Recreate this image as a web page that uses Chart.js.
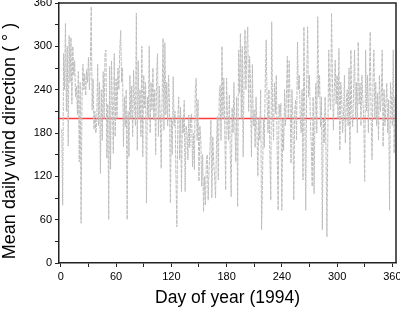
<!DOCTYPE html>
<html>
<head>
<meta charset="utf-8">
<script src="https://cdn.jsdelivr.net/npm/chart.js@4/dist/chart.umd.min.js"></script>
<style>
  html, body { margin: 0; padding: 0; background: #fff; }
  canvas { display: block; }
</style>
</head>
<body>
<canvas id="wind-chart" width="400" height="317"></canvas>
<script>
// mean daily wind direction (deg), days 1..365 of 1994
const windDirection = [
  185, 80, 290, 240, 332, 210, 300, 162, 315, 250,
  312, 220, 300, 260, 280, 230, 245, 205, 265, 140,
  250, 55, 230, 275, 240, 262, 232, 268, 250, 285,
  240, 275, 355, 212, 255, 185, 210, 180, 195, 275,
  190, 250, 124, 240, 170, 265, 200, 290, 295, 145,
  220, 60, 272, 130, 280, 216, 152, 290, 175, 255,
  200, 270, 240, 295, 322, 250, 270, 161, 230, 189,
  240, 60, 210, 147, 260, 200, 245, 175, 267, 220,
  190, 346, 156, 280, 200, 240, 175, 300, 147, 260,
  215, 250, 83, 230, 200, 300, 180, 250, 212, 270,
  198, 240, 150, 260, 290, 175, 245, 200, 131, 230,
  311, 184, 305, 205, 250, 190, 260, 221, 83, 200,
  150, 258, 190, 210, 120, 50, 200, 230, 143, 216,
  99, 200, 180, 225, 99, 190, 180, 143, 205, 160,
  200, 207, 133, 180, 129, 240, 256, 170, 226, 113,
  190, 170, 106, 150, 71, 120, 80, 140, 150, 87,
  130, 160, 198, 90, 175, 140, 120, 90, 160, 203,
  115, 230, 246, 170, 300, 200, 256, 189, 101, 256,
  200, 170, 233, 152, 92, 215, 180, 250, 189, 140,
  230, 78, 295, 235, 318, 200, 300, 147, 260, 323,
  240, 300, 327, 210, 286, 250, 147, 275, 190, 212,
  160, 230, 180, 120, 200, 170, 240, 46, 110, 200,
  160, 250, 309, 226, 180, 240, 150, 87, 334, 210,
  170, 250, 207, 260, 152, 73, 220, 203, 221, 73,
  200, 156, 240, 190, 230, 286, 200, 280, 220, 138,
  240, 200, 87, 210, 226, 170, 306, 240, 260, 200,
  180, 240, 115, 327, 200, 73, 250, 327, 230, 260,
  200, 161, 106, 230, 96, 200, 249, 180, 341, 230,
  260, 189, 230, 46, 200, 166, 230, 150, 36, 180,
  295, 230, 212, 346, 250, 184, 240, 281, 220, 260,
  200, 297, 156, 250, 230, 180, 203, 260, 166, 220,
  240, 190, 270, 138, 295, 210, 189, 240, 295, 200,
  250, 180, 306, 220, 249, 190, 260, 226, 200, 113,
  295, 210, 260, 180, 249, 320, 200, 143, 250, 295,
  200, 250, 190, 235, 170, 260, 210, 230, 295, 161,
  240, 190, 220, 249, 180, 226, 73, 250, 226, 190,
  295, 152, 230, 200, 180
];
const dayOfYear = windDirection.map((_, i) => i + 1);

const meanDirection = 200;
const xRange = [-2, 364];
const yRange = [0, 360];
const labelStep = 60;
const yTitle = 'Mean daily wind direction ( ° )';

const FONT = "'Liberation Sans', Arial, sans-serif";

// box round the plot (top and right edges) + y title, set a bit lower than centre
const frame = {
    id: 'frame',
    afterDraw(chart) {
        const { ctx, chartArea: a } = chart;
        ctx.save();
        ctx.strokeStyle = '#222';
        ctx.lineWidth = 1.5;
        ctx.beginPath();
        ctx.moveTo(a.left, a.top);
        ctx.lineTo(a.right, a.top);
        ctx.lineTo(a.right, a.bottom);
        ctx.stroke();

        ctx.translate(10, 141);
        ctx.rotate(-Math.PI / 2);
        ctx.fillStyle = '#000';
        ctx.font = '18px ' + FONT;
        ctx.textAlign = 'center';
        ctx.textBaseline = 'middle';
        ctx.fillText(yTitle, 0, 0);
        ctx.restore();
    }
};

function axis(range, size) {
    return {
        type: 'linear',
        min: range[0],
        max: range[1],
        afterFit: s => {
            // fixed box, no extra room for overhanging labels
            if (s.isHorizontal()) { s.height = size; s.paddingLeft = 0; s.paddingRight = 0; }
            else { s.width = size; s.paddingTop = 0; s.paddingBottom = 0; }
        },
        ticks: {
            stepSize: 30,
            includeBounds: false,
            autoSkip: false,
            maxRotation: 0,
            padding: 3,
            color: '#000',
            font: { family: FONT, size: 11 },
            callback: v => (v % labelStep === 0 ? v : '')
        },
        grid: { drawOnChartArea: false, tickLength: 4, color: '#222', tickWidth: 1 },
        border: { color: '#222', width: 1.5 }
    };
}

const xAxis = axis(xRange, 54);
xAxis.title = {
    display: true,
    text: 'Day of year (1994)',
    color: '#000',
    font: { family: FONT, size: 17.5 },
    padding: { top: 0, bottom: 8 }
};

const ctx = document.getElementById('wind-chart').getContext('2d');
window.windChart = new Chart(ctx, {
    type: 'line',
    data: {
        datasets: [
            {
                data: dayOfYear.map((d, i) => ({ x: d, y: windDirection[i] })),
                borderColor: '#bdbdbd',
                borderWidth: 1,
                borderDash: [4, 1],
                pointRadius: 0,
                tension: 0
            },
            {
                data: [{ x: xRange[0], y: meanDirection }, { x: xRange[1], y: meanDirection }],
                borderColor: '#ff3b3b',
                borderWidth: 1.5,
                pointRadius: 0
            }
        ]
    },
    options: {
        responsive: false,
        animation: false,
        devicePixelRatio: 1,
        layout: { padding: { top: 3, right: 4, left: 0, bottom: 0 } },
        plugins: { legend: { display: false }, tooltip: { enabled: false } },
        scales: {
            x: xAxis,
            y: axis(yRange, 59)
        }
    },
    plugins: [frame]
});
</script>
</body>
</html>
